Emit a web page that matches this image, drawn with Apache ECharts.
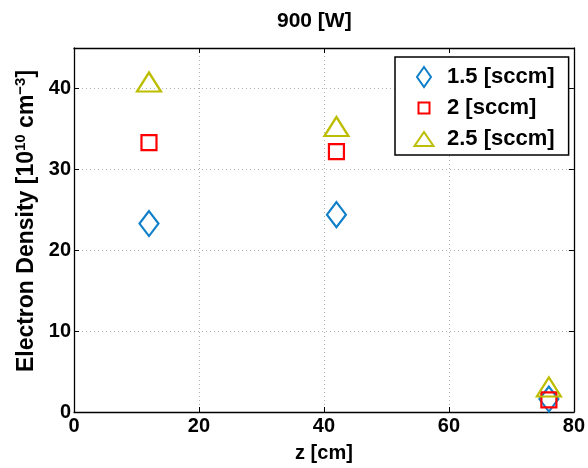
<!DOCTYPE html>
<html><head><meta charset="utf-8">
<script src="https://cdn.jsdelivr.net/npm/echarts@6/dist/echarts.min.js"></script>
<style>html,body{margin:0;padding:0;background:#fff}#c{width:588px;height:468px}</style>
</head><body><div id="c"></div>
<script>
const titleText = '900 [W]';
const seriesNames = ['1.5 [sccm]', '2 [sccm]', '2.5 [sccm]'];
const zValues = [12, 42, 76];
const density15 = [23.3, 24.4, 1.6];
const density2 = [33.3, 32.2, 1.5];
const density25 = [40.8, 35.3, 3.1];
const xTicks = [0, 20, 40, 60, 80];
const yTicks = [0, 10, 20, 30, 40];

const FONT = 'Liberation Sans, Arial, Helvetica, sans-serif';
const chart = echarts.init(document.getElementById('c'), null, {renderer: 'canvas'});
const pts = arr => zValues.map((z, i) => [z, arr[i]]);
const gridStyle = {show: true, lineStyle: {color: '#b0b0b0', type: [1, 3], width: 1}};
const boxLine = {show: true, onZero: false, lineStyle: {color: '#000', width: 1.3}};
const tick = {show: true, inside: true, length: 5, lineStyle: {color: '#000', width: 1}};
const mk = (name, data, symbol, size, color) => ({
  name, type: 'scatter', data: pts(data), symbol, symbolSize: size,
  itemStyle: {color: 'rgba(255,255,255,0)', borderColor: color, borderWidth: 2.2, opacity: 1},
  emphasis: {disabled: true}
});
const legendIcons = [
  'path://M0,0M20,20M10,0L17,10L10,20L3,10Z',
  'path://M0,0M20,20M4.5,4.5L15.5,4.5L15.5,15.5L4.5,15.5Z',
  'path://M0,0M20,20M10,3L19.5,17L0.5,17Z'
];
chart.setOption({
  animation: false,
  backgroundColor: '#fff',
  title: {text: titleText, left: 277, top: 11, padding: 0,
    textStyle: {fontFamily: FONT, fontWeight: 'bold', fontSize: 21, color: '#000'}},
  grid: {left: 74, right: 11, top: 48, bottom: 52},
  legend: {
    orient: 'vertical', left: 395, top: 57, width: 175,
    padding: [8, 14, 4, 18], itemGap: 7, itemWidth: 20, itemHeight: 20,
    borderColor: '#000', borderWidth: 1.5, backgroundColor: '#fff',
    textStyle: {fontFamily: FONT, fontWeight: 'bold', fontSize: 22, lineHeight: 24, color: '#000', padding: [0, 0, 0, 8]},
    data: seriesNames.map((n, i) => ({name: n, icon: legendIcons[i]}))
  },
  xAxis: [{
    type: 'value', min: xTicks[0], max: xTicks[xTicks.length - 1], interval: 20,
    name: 'z [cm]', nameLocation: 'middle', nameGap: 31,
    nameTextStyle: {fontFamily: FONT, fontWeight: 'bold', fontSize: 20, color: '#000'},
    axisLine: boxLine, axisTick: tick,
    axisLabel: {fontFamily: FONT, fontWeight: 'bold', fontSize: 20, color: '#000', margin: 4},
    splitLine: gridStyle
  }, {
    type: 'value', position: 'top', min: 0, max: 80, interval: 20,
    axisLine: boxLine, axisTick: tick,
    axisLabel: {show: false}, splitLine: {show: false}
  }],
  yAxis: [{
    type: 'value', min: 0, max: 45, interval: 10,
    name: '{n|Electron Density [10}{s|10}{n| cm}{s|−3}{n|]}', nameLocation: 'middle', nameGap: 32,
    nameTextStyle: {fontFamily: FONT, fontWeight: 'bold', fontSize: 23, color: '#000', padding: [0, 0, 0, 18],
      rich: {n: {fontFamily: FONT, fontWeight: 'bold', fontSize: 23, color: '#000'},
             s: {fontFamily: FONT, fontWeight: 'bold', fontSize: 15, color: '#000', verticalAlign: 'top', padding: [0, 0, 10, 0]}}},
    axisLine: boxLine, axisTick: tick,
    axisLabel: {fontFamily: FONT, fontWeight: 'bold', fontSize: 20, color: '#000', margin: 3, showMaxLabel: false,
      formatter: v => yTicks.includes(v) ? String(v) : ''},
    splitLine: gridStyle
  }, {
    type: 'value', position: 'right', min: 0, max: 45, interval: 10,
    axisLine: boxLine, axisTick: tick,
    axisLabel: {show: false}, splitLine: {show: false}
  }],
  series: [
    mk(seriesNames[0], density15, 'diamond', [19, 25], '#0e7fc8'),
    mk(seriesNames[1], density2, 'rect', [15, 15], '#ff0000'),
    mk(seriesNames[2], density25, 'triangle', [24, 19], '#bdbd00')
  ]
});
</script></body></html>
